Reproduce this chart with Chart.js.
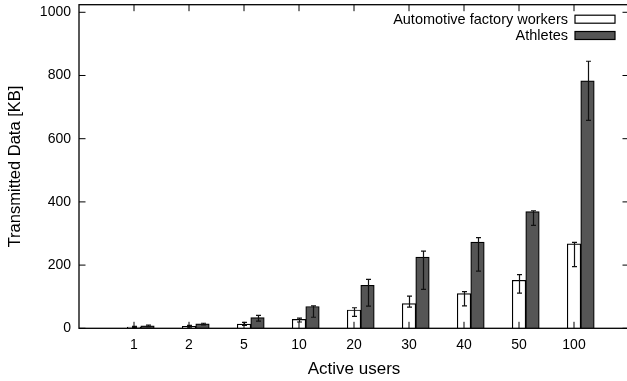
<!DOCTYPE html>
<html>
<head>
<meta charset="utf-8">
<script src="https://cdn.jsdelivr.net/npm/chart.js@4.4.1/dist/chart.umd.min.js"></script>
<style>
  html, body { margin: 0; padding: 0; overflow: hidden; background: #fff; }
  canvas { display: block; }
</style>
</head>
<body>
<canvas id="chart" width="640" height="381"></canvas>
<script>
// data
const users = ['1', '2', '5', '10', '20', '30', '40', '50', '100'];
const workers = [4, 6, 13, 28, 58, 78, 110, 152, 267];
const workersLow = [2, 4, 9, 20, 38, 67, 71, 111, 195];
const workersHigh = [6, 9, 19, 32, 65, 102, 116, 170, 272];
const athletes = [8, 14, 34, 69, 136, 225, 273, 369, 783];
const athletesLow = [5, 11, 23, 35, 70, 123, 181, 326, 658];
const athletesHigh = [10, 16, 41, 71, 155, 244, 287, 372, 845];
const yTicks = [0, 200, 400, 600, 800, 1000];

// one empty slot each side, like gnuplot's histogram range
const pad = a => [null, ...a, null];
const FONT = 'Liberation Sans, Arial, Helvetica, sans-serif';

const frame = {
  id: 'frame',
  afterDraw(chart) {
    const { ctx, chartArea: a, scales: { x, y } } = chart;
    ctx.save();
    ctx.strokeStyle = '#000';
    ctx.lineWidth = 1.3;
    ctx.strokeRect(a.left, a.top, a.right - a.left, a.bottom - a.top);
    ctx.lineWidth = 1;
    ctx.beginPath();
    yTicks.forEach(v => {
      const py = y.getPixelForValue(v);
      ctx.moveTo(a.left, py); ctx.lineTo(a.left + 6.5, py);
      ctx.moveTo(a.right, py); ctx.lineTo(a.right - 6.5, py);
    });
    users.forEach((u, i) => {
      const px = x.getPixelForValue(i + 1);
      ctx.moveTo(px, a.bottom); ctx.lineTo(px, a.bottom - 6.5);
      ctx.moveTo(px, a.top); ctx.lineTo(px, a.top + 6.5);
    });
    ctx.stroke();
    ctx.restore();
  }
};

const errorBars = {
  id: 'errorBars',
  afterDatasetsDraw(chart) {
    const { ctx, scales: { y } } = chart;
    ctx.save();
    ctx.strokeStyle = '#111';
    ctx.lineWidth = 1.2;
    chart.data.datasets.forEach((ds, di) => {
      if (!ds.errLow) return;
      const meta = chart.getDatasetMeta(di);
      meta.data.forEach((bar, i) => {
        if (ds.errLow[i] == null) return;
        const x = Math.round(bar.x) + 0.5;
        const y1 = y.getPixelForValue(ds.errLow[i]);
        const y2 = y.getPixelForValue(ds.errHigh[i]);
        ctx.beginPath();
        ctx.moveTo(x, y1); ctx.lineTo(x, y2);
        ctx.moveTo(x - 2.5, y1); ctx.lineTo(x + 2.5, y1);
        ctx.moveTo(x - 2.5, y2); ctx.lineTo(x + 2.5, y2);
        ctx.stroke();
      });
    });
    ctx.restore();
  }
};

const keyBox = {
  id: 'keyBox',
  afterDraw(chart) {
    const { ctx, chartArea: a } = chart;
    const items = chart.data.datasets.filter(d => d.label);
    ctx.save();
    ctx.font = '14.5px ' + FONT;
    ctx.textAlign = 'right';
    ctx.textBaseline = 'middle';
    items.forEach((d, i) => {
      const cy = a.top + 14.5 + i * 16.3;
      const bx = a.right - 54;
      ctx.fillStyle = d.backgroundColor;
      ctx.fillRect(bx, cy - 4, 40, 8);
      ctx.strokeStyle = '#000';
      ctx.lineWidth = 1.2;
      ctx.strokeRect(bx, cy - 4, 40, 8);
      ctx.fillStyle = '#000';
      ctx.fillText(d.label, bx - 7, cy + 0.5);
    });
    ctx.restore();
  }
};

new Chart(document.getElementById('chart'), {
  type: 'bar',
  data: {
    labels: pad(users).map(l => l || ''),
    datasets: [
      { data: pad(users.map(() => null)), backgroundColor: 'transparent' },
      {
        label: 'Automotive factory workers',
        data: pad(workers),
        errLow: pad(workersLow),
        errHigh: pad(workersHigh),
        backgroundColor: '#ffffff',
        borderColor: '#000',
        borderWidth: 1.2
      },
      {
        label: 'Athletes',
        data: pad(athletes),
        errLow: pad(athletesLow),
        errHigh: pad(athletesHigh),
        backgroundColor: '#555555',
        borderColor: '#000',
        borderWidth: 1.2
      }
    ]
  },
  options: {
    responsive: false,
    animation: false,
    barThickness: 13.5,
    layout: { padding: { top: 4.7, right: 11, left: 0, bottom: 0 } },
    plugins: { legend: { display: false }, tooltip: { enabled: false } },
    scales: {
      x: {
        offset: false,
        grid: { display: false },
        border: { display: false },
        ticks: { color: '#000', font: { family: FONT, size: 14 }, padding: 0, maxRotation: 0, autoSkip: false },
        title: { display: true, text: 'Active users', color: '#000', font: { family: FONT, size: 17 }, padding: { top: 0, bottom: 1 } },
        afterFit: s => { s.height = 52.7; s.paddingLeft = 0; s.paddingRight = 0; }
      },
      y: {
        min: 0,
        max: 1024,
        grid: { display: false },
        border: { display: false },
        afterBuildTicks: s => { s.ticks = yTicks.map(v => ({ value: v })); },
        ticks: { color: '#000', font: { family: FONT, size: 14 }, padding: 0, callback: v => String(v) },
        title: { display: true, text: 'Transmitted Data [KB]', color: '#000', font: { family: FONT, size: 16.5 }, padding: { top: 6, bottom: 0 } },
        afterFit: s => { s.width = 79; s.paddingTop = 0; s.paddingBottom = 0; }
      }
    }
  },
  plugins: [errorBars, frame, keyBox]
});
</script>
</body>
</html>
